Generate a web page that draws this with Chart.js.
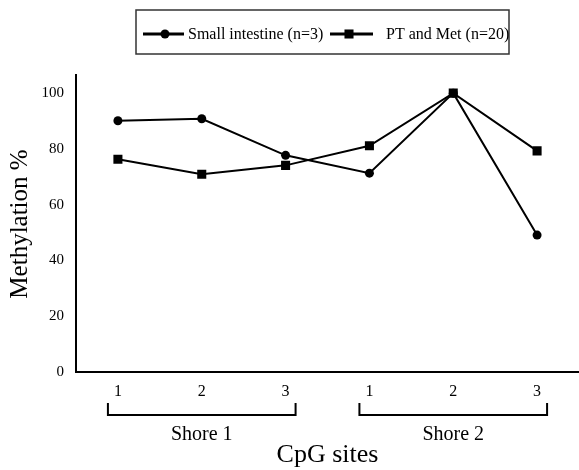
<!DOCTYPE html>
<html>
<head>
<meta charset="utf-8">
<script src="https://cdn.jsdelivr.net/npm/chart.js@4/dist/chart.umd.min.js"></script>
<style>
  html,body{margin:0;padding:0;background:#fff}
  #wrap{width:579px;height:470px;position:relative}
</style>
</head>
<body>
<div id="wrap"><canvas id="ch"></canvas></div>
<script>
// ---- datos ----
const sitios=['1','2','3','1','2','3'];
const grupos=['Shore 1','Shore 2'];
const intestino=[90.1,90.8,77.7,71.3,100,49.1];
const ptMet=[76.3,70.9,74.1,81.1,100,79.3];
const serieNombres=['Small intestine (n=3)','PT and Met (n=20)'];
const yTicks=[0,20,40,60,80,100];

const SERIF='"Liberation Serif","Times New Roman",serif';

// leyenda con recuadro, brackets de shores y títulos de ejes
const extras={
  id:'extras',
  afterDraw(chart){
    const ctx=chart.ctx, x=chart.scales.x;
    ctx.save();
    // leyenda
    ctx.strokeStyle='#333';ctx.lineWidth=1.5;
    ctx.strokeRect(136,10,373,44);
    const items=[
      {x0:143,x1:184,mx:165,tx:188,style:'circle',r:4.5},
      {x0:330,x1:373,mx:349,tx:386,style:'rect',r:6.4}
    ];
    const ly=34;
    items.forEach((it,i)=>{
      ctx.strokeStyle='#000';ctx.lineWidth=3;
      ctx.beginPath();ctx.moveTo(it.x0,ly);ctx.lineTo(it.x1,ly);ctx.stroke();
      ctx.fillStyle='#000';
      Chart.helpers.drawPoint(ctx,{pointStyle:it.style,radius:it.r,rotation:0,borderWidth:0},it.mx,ly);
      ctx.fillStyle='#000';ctx.font='16px '+SERIF;ctx.textBaseline='middle';ctx.textAlign='left';
      ctx.fillText(serieNombres[i],it.tx,ly+1);
    });
    // brackets
    ctx.strokeStyle='#000';ctx.lineWidth=2;
    grupos.forEach((g,i)=>{
      const a=x.getPixelForValue(i*3)-10, b=x.getPixelForValue(i*3+2)+10;
      ctx.beginPath();
      ctx.moveTo(a,403);ctx.lineTo(a,415);ctx.lineTo(b,415);ctx.lineTo(b,403);
      ctx.stroke();
      ctx.font='20px '+SERIF;ctx.textAlign='center';ctx.textBaseline='alphabetic';
      ctx.fillText(g,(a+b)/2,440);
    });
    // títulos
    ctx.font='26px '+SERIF;ctx.textAlign='center';ctx.textBaseline='alphabetic';
    ctx.fillText('CpG sites',(chart.chartArea.left+chart.chartArea.right)/2,462);
    ctx.translate(27,224);ctx.rotate(-Math.PI/2);
    ctx.font='25px '+SERIF;
    ctx.fillText('Methylation %',0,0);
    ctx.restore();
  }
};

new Chart(document.getElementById('ch'),{
  type:'line',
  data:{labels:sitios,datasets:[
    {label:serieNombres[0],data:intestino,borderColor:'#000',backgroundColor:'#000',borderWidth:2,
      pointStyle:'circle',pointRadius:4.5,pointBorderWidth:0,tension:0},
    {label:serieNombres[1],data:ptMet,borderColor:'#000',backgroundColor:'#000',borderWidth:2,
      pointStyle:'rect',pointRadius:6.4,pointBorderWidth:0,tension:0}
  ]},
  options:{responsive:true,maintainAspectRatio:false,animation:false,
    layout:{autoPadding:false,padding:{top:75,left:0,right:0,bottom:0}},
    plugins:{legend:{display:false},tooltip:{enabled:false}},
    scales:{
      x:{offset:true,grid:{display:false,drawTicks:false},
        border:{display:true,color:'#000',width:2},
        ticks:{color:'#000',font:{family:SERIF,size:16},padding:10,autoSkip:false,maxRotation:0},
        afterFit(s){s.height=98;}},
      y:{min:0,max:106.5,grid:{display:false,drawTicks:false},
        border:{display:true,color:'#000',width:2},
        afterBuildTicks(s){s.ticks=yTicks.map(v=>({value:v}));},
        ticks:{color:'#000',font:{family:SERIF,size:15},padding:12},
        afterFit(s){s.width=76;}}
    }
  },
  plugins:[extras]
});
</script>
</body>
</html>
